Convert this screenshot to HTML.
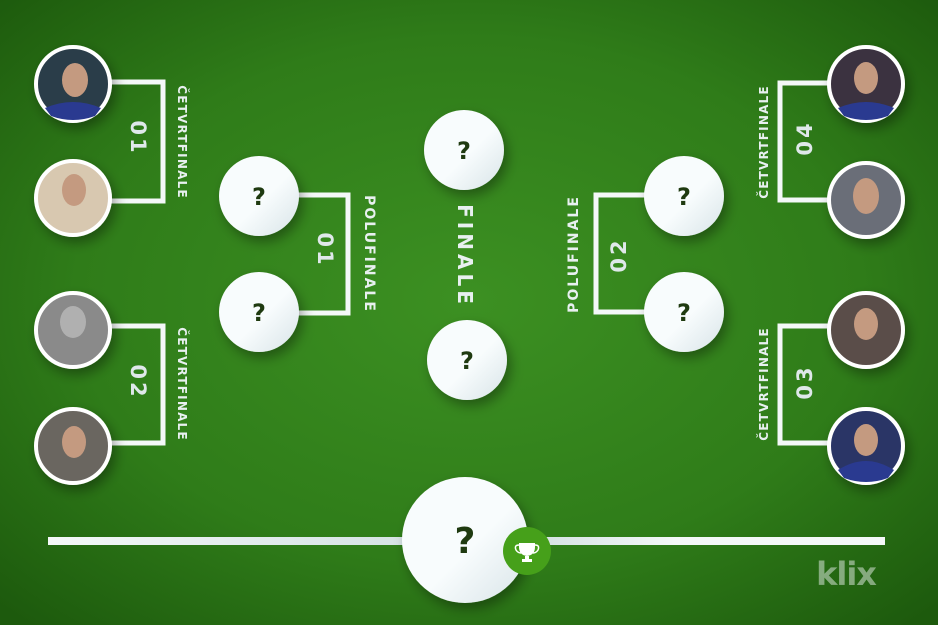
<!DOCTYPE html>
<html><head><meta charset="utf-8"><style>
html,body{margin:0;padding:0;width:938px;height:625px;overflow:hidden;background:#2f7a18}
svg{display:block}
text{font-family:"DejaVu Sans","Liberation Sans",sans-serif;font-weight:bold}
</style></head><body>
<svg width="938" height="625" viewBox="0 0 938 625" xmlns="http://www.w3.org/2000/svg">
<defs>
<radialGradient id="bg" cx="50%" cy="48%" r="70%">
<stop offset="0" stop-color="#3c9022"/><stop offset="0.6" stop-color="#2f7c19"/><stop offset="1" stop-color="#1d5a0d"/>
</radialGradient>
<filter id="sh" x="-50%" y="-50%" width="200%" height="200%"><feDropShadow dx="4" dy="6" stdDeviation="6" flood-color="#000" flood-opacity="0.35"/></filter>
<linearGradient id="wc" x1="0" y1="0" x2="1" y2="1"><stop offset="0.55" stop-color="#f8fcfd"/><stop offset="1" stop-color="#d8e4e8"/></linearGradient>
<linearGradient id="ln" x1="0" x2="1"><stop offset="0" stop-color="#f4f8f8"/><stop offset="0.4" stop-color="#d8e4e6"/><stop offset="0.6" stop-color="#d8e4e6"/><stop offset="0.75" stop-color="#f4f8f8"/></linearGradient>
</defs>
<rect width="938" height="625" fill="url(#bg)"/>
<g stroke="#f4f8f8" stroke-width="5" fill="none">
<path d="M110 82 H163 V201 H110"/>
<path d="M110 326 H163 V443 H110"/>
<path d="M297 195 H348 V313 H297"/>
<path d="M828 83 H780 V200 H828"/>
<path d="M828 326 H780 V443 H828"/>
<path d="M645 195 H596 V312 H645"/>
</g>
<rect x="48" y="537" width="837" height="8" fill="url(#ln)"/>
<g filter="url(#sh)" stroke="#fff" stroke-width="4">
<circle cx="73" cy="84" r="37" fill="#2a3d4a"/>
<circle cx="73" cy="198" r="37" fill="#d8c8b0"/>
<circle cx="73" cy="330" r="37" fill="#8a8a8a"/>
<circle cx="73" cy="446" r="37" fill="#6a6660"/>
<circle cx="866" cy="84" r="37" fill="#3a3340"/>
<circle cx="866" cy="200" r="37" fill="#6a6e78"/>
<circle cx="866" cy="330" r="37" fill="#5a4e48"/>
<circle cx="866" cy="446" r="37" fill="#2a3566"/>
</g>
<g fill="#2a3a90"><path d="M45 108 Q73 96 101 108 L95 116 Q73 124 51 116Z"/><path d="M838 108 Q866 96 894 108 L888 116 Q866 124 844 116Z"/><path d="M838 470 Q866 452 894 470 L888 478 Q866 486 844 478Z"/></g>
<g fill="#c49a80"><ellipse cx="75" cy="80" rx="13" ry="17"/><ellipse cx="74" cy="190" rx="12" ry="16"/><ellipse cx="74" cy="442" rx="12" ry="16"/><ellipse cx="866" cy="78" rx="12" ry="16"/><ellipse cx="866" cy="196" rx="13" ry="18"/><ellipse cx="866" cy="324" rx="12" ry="16"/><ellipse cx="866" cy="440" rx="12" ry="16"/></g>
<ellipse cx="73" cy="322" rx="13" ry="16" fill="#b0b0b0"/>
<g filter="url(#sh)" fill="url(#wc)">
<circle cx="259" cy="196" r="40"/><circle cx="259" cy="312" r="40"/>
<circle cx="684" cy="196" r="40"/><circle cx="684" cy="312" r="40"/>
<circle cx="464" cy="150" r="40"/><circle cx="467" cy="360" r="40"/>
<circle cx="465" cy="540" r="63"/>
</g>
<g fill="#1f3a10" font-size="24" text-anchor="middle">
<text x="259" y="205">?</text><text x="259" y="321">?</text>
<text x="684" y="205">?</text><text x="684" y="321">?</text>
<text x="464" y="159">?</text><text x="467" y="369">?</text>
<text x="465" y="553" font-size="36">?</text>
</g>
<circle cx="527" cy="551" r="24" fill="#46a01a"/>
<path d="M519 543 H535 V547 Q535 555 527 556 Q519 555 519 547Z M525 556 H529 V559 H532 V562 H522 V559 H525Z" fill="#fff"/>
<path d="M519 545 Q514 545 516 550 Q518 553 521 553 M535 545 Q540 545 538 550 Q536 553 533 553" stroke="#fff" stroke-width="1.5" fill="none"/>
<g fill="#e8f0f0" text-anchor="middle">
<text transform="translate(178,142) rotate(90)" font-size="12" letter-spacing="1.2">ČETVRTFINALE</text>
<text transform="translate(178,384) rotate(90)" font-size="12" letter-spacing="1.2">ČETVRTFINALE</text>
<text transform="translate(131,138) rotate(90)" font-size="21" letter-spacing="3" fill="#dfe8ea">01</text>
<text transform="translate(131,382) rotate(90)" font-size="21" letter-spacing="3" fill="#dfe8ea">02</text>
<text transform="translate(365,254) rotate(90)" font-size="14" letter-spacing="2">POLUFINALE</text>
<text transform="translate(318,250) rotate(90)" font-size="21" letter-spacing="3" fill="#dfe8ea">01</text>
<text transform="translate(458,256) rotate(90)" font-size="20" letter-spacing="4">FINALE</text>
<text transform="translate(578,254) rotate(-90)" font-size="14" letter-spacing="2">POLUFINALE</text>
<text transform="translate(626,255) rotate(-90)" font-size="21" letter-spacing="3" fill="#dfe8ea">02</text>
<text transform="translate(768,142) rotate(-90)" font-size="12" letter-spacing="1.2">ČETVRTFINALE</text>
<text transform="translate(768,384) rotate(-90)" font-size="12" letter-spacing="1.2">ČETVRTFINALE</text>
<text transform="translate(812,138) rotate(-90)" font-size="21" letter-spacing="3" fill="#dfe8ea">04</text>
<text transform="translate(812,382) rotate(-90)" font-size="21" letter-spacing="3" fill="#dfe8ea">03</text>
</g>
<text x="846" y="585" text-anchor="middle" font-size="32" fill="#c8d8c8" fill-opacity="0.6" letter-spacing="-1">klix</text>
</svg>
</body></html>
